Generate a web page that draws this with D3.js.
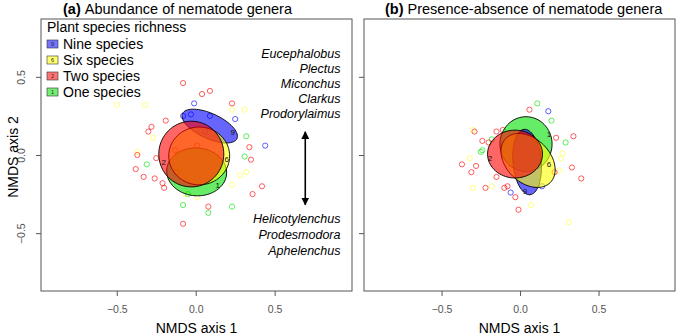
<!DOCTYPE html>
<html>
<head>
<meta charset="utf-8">
<script src="https://cdn.jsdelivr.net/npm/d3@7"></script>
<style>
  body { margin: 0; background: #fff; }
  svg { display: block; font-family: "Liberation Sans", Arial, sans-serif; }
</style>
</head>
<body>
<div id="chart"></div>
<script>
const width = 676;
const height = 335;

// groups, in drawing order
const groups = ["One species", "Nine species", "Six species", "Two species"];
const groupCodes = ["1", "9", "6", "2"];
const groupColors = ["#00e000", "#0000ff", "#ffff00", "#ff0000"];
const legendOrder = ["Nine species", "Six species", "Two species", "One species"];

const ticks = [-0.5, 0, 0.5];

// ellipses: [cx, cy, rx, ry, angle(deg)], same order as groups
const ellipsesA = [
  [0.006, -0.108, 0.19, 0.153, -4],
  [0.089, 0.185, 0.19, 0.08, -25],
  [0.022, -0.006, 0.193, 0.185, 0],
  [-0.028, 0.006, 0.206, 0.21, 0]
];
const labelPosA = [[0.139, -0.191], [0.234, 0.146], [0.196, -0.025], [-0.203, -0.045]];

const ellipsesB = [
  [0.038, 0.07, 0.166, 0.175, 0],
  [0.045, -0.045, 0.09, 0.21, 5],
  [0.051, -0.035, 0.2, 0.14, -45],
  [-0.032, 0.006, 0.175, 0.153, 0]
];
const labelPosB = [[0.185, 0.134], [0.032, -0.229], [0.185, -0.057], [-0.191, -0.019]];

// site scores, by group
const pointsA = {
  "Two species": [[-0.08, 0.46], [0.04, 0.39], [0.09, 0.41], [0.23, 0.33], [-0.19, 0.22], [-0.28, 0.18],
    [-0.30, 0.15], [0.34, 0.05], [0.35, -0.03], [-0.37, 0.00], [-0.38, -0.09], [-0.33, -0.14],
    [-0.26, -0.15], [-0.21, -0.18], [-0.20, -0.21], [0.42, -0.20], [0.36, -0.25], [0.08, -0.33],
    [-0.08, -0.44], [-0.25, -0.02], [0.01, 0.06], [-0.13, 0.03], [-0.12, -0.11], [0.06, 0.15]],
  "Nine species": [[-0.01, 0.33], [-0.08, 0.25], [-0.03, 0.26], [0.09, 0.25], [0.25, 0.23], [0.44, 0.06]],
  "Six species": [[-0.50, 0.32], [-0.32, 0.32], [0.23, 0.29], [0.31, 0.29], [-0.27, 0.11], [-0.37, 0.02],
    [0.28, -0.13], [0.32, -0.11], [0.23, -0.19], [0.01, -0.27], [-0.06, -0.25]],
  "One species": [[0.32, 0.12], [0.31, -0.01], [-0.31, -0.06], [-0.08, -0.32], [0.08, -0.37], [0.23, -0.33], [-0.05, -0.25]]
};
const pointsB = {
  "Two species": [[-0.29, 0.15], [-0.15, 0.15], [-0.11, 0.16], [-0.24, 0.09], [-0.20, 0.08], [0.34, 0.12],
    [0.23, 0.11], [-0.37, -0.06], [-0.28, -0.07], [-0.31, -0.11], [0.33, -0.08], [0.39, -0.15],
    [0.22, -0.11], [-0.22, -0.21], [-0.10, -0.21], [-0.08, -0.20], [-0.03, -0.27], [-0.01, -0.35],
    [-0.15, -0.14], [0.06, 0.29]],
  "Six species": [[-0.30, 0.16], [-0.32, -0.02], [0.27, 0.01], [0.26, -0.02], [0.25, -0.10], [-0.30, -0.21],
    [-0.18, -0.20], [0.07, -0.32], [0.31, -0.43]],
  "One species": [[-0.18, 0.10], [-0.24, 0.03], [-0.25, 0.02], [0.29, 0.08], [0.20, 0.22], [0.11, 0.33]],
  "Nine species": [[-0.06, -0.24], [0.14, -0.20], [0.18, 0.28]]
};

const generaUp = ["Eucephalobus", "Plectus", "Miconchus", "Clarkus", "Prodorylaimus"];
const generaDown = ["Helicotylenchus", "Prodesmodora", "Aphelenchus"];
const arrow = { x: 0.694, y1: 0.148, y2: -0.318 };

const svg = d3.select("#chart").append("svg")
  .attr("width", width)
  .attr("height", height);

svg.append("defs").append("marker")
  .attr("id", "head")
  .attr("viewBox", "0 0 10 10")
  .attr("refX", 9).attr("refY", 5)
  .attr("markerWidth", 5).attr("markerHeight", 5)
  .attr("orient", "auto-start-reverse")
  .append("path")
  .attr("d", "M0,0L10,5L0,10z")
  .attr("fill", "#000");

const colorOf = g => groupColors[groups.indexOf(g)];
const fmt = d => d3.format(".1f")(d).replace("-", "\u2212");

function ellipsePath(e, x, y) {
  const [cx, cy, rx, ry, ang] = e;
  const a = ang * Math.PI / 180;
  const pts = d3.range(0, 72).map(i => {
    const t = i / 72 * 2 * Math.PI;
    return [
      x(cx + rx * Math.cos(t) * Math.cos(a) - ry * Math.sin(t) * Math.sin(a)),
      y(cy + rx * Math.cos(t) * Math.sin(a) + ry * Math.sin(t) * Math.cos(a))
    ];
  });
  return d3.line().curve(d3.curveLinearClosed)(pts);
}

function panel(opts) {
  const x = d3.scaleLinear().domain(opts.xDomain).range([opts.left, opts.right]);
  const y = d3.scaleLinear().domain([-0.87, 0.87]).range([291, 19]);
  const g = svg.append("g");

  // points
  groups.forEach(name => {
    g.append("g").selectAll("circle")
      .data(opts.points[name] || [])
      .join("circle")
      .attr("cx", d => x(d[0]))
      .attr("cy", d => y(d[1]))
      .attr("r", 2.6)
      .attr("fill", "none")
      .attr("stroke", colorOf(name))
      .attr("stroke-opacity", name === "Six species" ? 0.55 : 0.7)
      .attr("stroke-width", 0.9);
  });

  // ellipses
  g.append("g").selectAll("path")
    .data(opts.ellipses)
    .join("path")
    .attr("d", e => ellipsePath(e, x, y))
    .attr("fill", (e, i) => groupColors[i])
    .attr("fill-opacity", 0.6)
    .attr("stroke", "#000")
    .attr("stroke-width", 0.9);

  g.append("g").selectAll("text")
    .data(opts.labels)
    .join("text")
    .attr("x", d => x(d[0]))
    .attr("y", d => y(d[1]))
    .attr("dy", "0.35em")
    .attr("text-anchor", "middle")
    .attr("font-size", 8)
    .attr("fill", "#111")
    .text((d, i) => groupCodes[i]);

  // frame
  g.append("rect")
    .attr("x", opts.left).attr("y", 19)
    .attr("width", opts.right - opts.left).attr("height", 272)
    .attr("fill", "none").attr("stroke", "#555").attr("stroke-width", 1);

  const xAxis = g.append("g")
    .attr("transform", "translate(0,291)")
    .call(d3.axisBottom(x).tickValues(ticks).tickSize(5).tickPadding(10).tickFormat(fmt));
  xAxis.select(".domain").remove();
  xAxis.selectAll("line").attr("stroke", "#555");
  xAxis.selectAll("text").attr("font-size", 10.5).attr("fill", "#555")
    .attr("font-family", "Liberation Sans, Arial, sans-serif");

  const yAxis = g.append("g")
    .attr("transform", `translate(${opts.left},0)`)
    .call(d3.axisLeft(y).tickValues(ticks).tickSize(5).tickFormat(fmt));
  yAxis.select(".domain").remove();
  yAxis.selectAll("line").attr("stroke", "#555");
  if (opts.yLabels) {
    yAxis.selectAll("text")
      .attr("font-size", 10.5).attr("fill", "#555")
      .attr("font-family", "Liberation Sans, Arial, sans-serif")
      .attr("x", 0).attr("y", 0).attr("dy", 0)
      .attr("transform", "translate(-16,0) rotate(-90)")
      .attr("text-anchor", "middle");
  } else {
    yAxis.selectAll("text").remove();
  }

  svg.append("text")
    .attr("x", (opts.left + opts.right) / 2)
    .attr("y", 333)
    .attr("text-anchor", "middle")
    .attr("font-size", 14)
    .text("NMDS axis 1");

  const title = svg.append("text")
    .attr("x", opts.titleX).attr("y", 14)
    .attr("font-size", 14.5);
  title.append("tspan").attr("font-weight", "bold").text(opts.tag + " ");
  title.append("tspan").text(opts.title);

  return { x, y, g };
}

const A = panel({
  left: 41, right: 352, xDomain: [-0.98, 0.99],
  points: pointsA, ellipses: ellipsesA, labels: labelPosA,
  yLabels: true, tag: "(a)", title: "Abundance of nematode genera", titleX: 63
});
panel({
  left: 364, right: 675, xDomain: [-0.994, 0.987],
  points: pointsB, ellipses: ellipsesB, labels: labelPosB,
  yLabels: false, tag: "(b)", title: "Presence-absence of nematode genera", titleX: 385
});

svg.append("text")
  .attr("transform", "translate(18,157) rotate(-90)")
  .attr("text-anchor", "middle")
  .attr("font-size", 14)
  .text("NMDS axis 2");

// legend
const leg = svg.append("g").attr("transform", "translate(47,0)");
leg.append("text").attr("x", 0).attr("y", 32).attr("font-size", 14).text("Plant species richness");
legendOrder.forEach((name, i) => {
  const yy = 48.5 + i * 16;
  const k = groups.indexOf(name);
  leg.append("rect")
    .attr("x", 0).attr("y", yy - 8.5).attr("width", 11).attr("height", 8)
    .attr("fill", groupColors[k]).attr("fill-opacity", 0.55)
    .attr("stroke", "#333").attr("stroke-width", 0.6);
  leg.append("text")
    .attr("x", 5.5).attr("y", yy - 2.2)
    .attr("text-anchor", "middle").attr("font-size", 5.5).attr("fill", "#222")
    .text(groupCodes[k]);
  leg.append("text").attr("x", 16).attr("y", yy).attr("font-size", 14).text(name);
});

// genera and arrow
const gen = A.g.append("g").attr("font-size", 12.5).attr("font-style", "italic").attr("text-anchor", "end");
generaUp.forEach((t, i) => {
  gen.append("text").attr("x", 340.5).attr("y", 57.5 + i * 15).text(t);
});
generaDown.forEach((t, i) => {
  gen.append("text").attr("x", 340.5).attr("y", 222.5 + i * 16).text(t);
});
A.g.append("line")
  .attr("x1", A.x(arrow.x)).attr("x2", A.x(arrow.x))
  .attr("y1", A.y(arrow.y1)).attr("y2", A.y(arrow.y2))
  .attr("stroke", "#000").attr("stroke-width", 1.6)
  .attr("marker-start", "url(#head)").attr("marker-end", "url(#head)");
</script>
</body>
</html>
